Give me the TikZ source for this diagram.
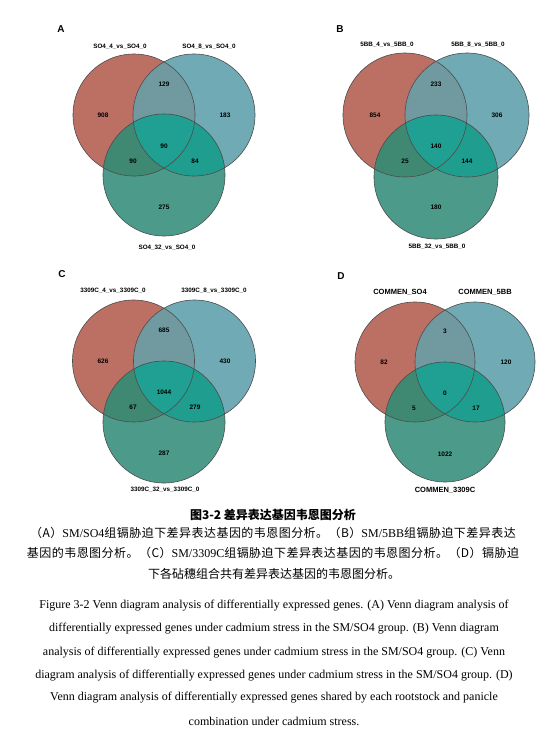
\documentclass[tikz,border=0pt]{standalone}
\usepackage{fontspec}
\setmainfont{Liberation Serif}
\setsansfont{Liberation Sans}
\newfontfamily\cjk{Noto Sans CJK SC}
\newfontfamily\cjkwide[LetterSpace=3.8]{Noto Sans CJK SC}
\usetikzlibrary{calc}
\pgfdeclarelayer{background}
\pgfdeclarelayer{foreground}
\pgfsetlayers{background,main,foreground}

\definecolor{vred}{RGB}{188,112,100}
\definecolor{vblue}{RGB}{112,170,181}
\definecolor{vgreen}{RGB}{76,155,138}
\definecolor{vredblue}{RGB}{112,153,160}
\definecolor{vredgreen}{RGB}{63,136,114}
\definecolor{vbluegreen}{RGB}{31,158,144}
\definecolor{vall}{RGB}{32,160,146}

\newcommand{\zh}[1]{{\cjkwide #1}}

\tikzset{
  setname/.style={font=\sffamily\bfseries\fontsize{6.3}{7}\selectfont},
  count/.style={font=\sffamily\bfseries\fontsize{6.5}{7}\selectfont},
  panel/.style={font=\sffamily\bfseries\fontsize{10}{12}\selectfont},
  rim/.style={draw=black!70, line width=0.6pt},
  zhline/.style={font=\cjk\fontsize{12}{14}\selectfont},
  enline/.style={font=\fontsize{12}{14}\selectfont},
}

\begin{document}
\begin{tikzpicture}[x=1pt,y=-1pt]
\useasboundingbox (0,0) rectangle (550,744);

% circles of the four panels
\foreach \p/\cx/\cy/\d/\r in {A/164/115/30/61, B/436/115/31/62, C/164/361/30.5/61, D/445/362/30/60}{
  \coordinate (\p-r) at (\cx-\d,\cy);
  \coordinate (\p-b) at (\cx+\d,\cy);
  \coordinate (\p-g) at (\cx,\cy+2*\d);
  \begin{pgfonlayer}{background}
  \fill[vred] (\p-r) circle (\r pt);
  \fill[vblue] (\p-b) circle (\r pt);
  \fill[vgreen] (\p-g) circle (\r pt);
  \begin{scope}
    \clip (\p-b) circle (\r pt);
    \fill[vbluegreen] (\p-g) circle (\r pt);
  \end{scope}
  \begin{scope}
    \clip (\p-r) circle (\r pt);
    \fill[vredblue] (\p-b) circle (\r pt);
    \fill[vredgreen] (\p-g) circle (\r pt);
    \clip (\p-b) circle (\r pt);
    \fill[vall] (\p-g) circle (\r pt);
  \end{scope}
  \end{pgfonlayer}
  \draw[rim] (\p-r) circle (\r pt);
  \draw[rim] (\p-b) circle (\r pt);
  \draw[rim] (\p-g) circle (\r pt);
}

% counts
\begin{pgfonlayer}{foreground}
\foreach \p/\cx/\cy/\ro/\bo/\rb/\all/\rg/\bg/\go in {
  A/164/115/908/183/129/90/90/84/275,
  B/436/115/854/306/233/140/25/144/180,
  C/164/361/626/430/685/1044/67/279/287,
  D/445/362/82/120/3/0/5/17/1022}{
  \node[count] (\p-ro) at (\cx-61,\cy) {\ro};
  \node[count] (\p-bo) at (\cx+61,\cy) {\bo};
  \node[count] (\p-rb) at (\cx,\cy-31) {\rb};
  \node[count] (\p-all) at (\cx,\cy+31) {\all};
  \node[count] (\p-rg) at (\cx-31,\cy+46) {\rg};
  \node[count] (\p-bg) at (\cx+31,\cy+46) {\bg};
  \node[count] (\p-go) at (\cx,\cy+92) {\go};
}
\end{pgfonlayer}

% panel letters and set names
\node[panel] (A) at (61,29) {A};
\node[setname] (A-rn) at (120,47) {SO4\_4\_vs\_SO4\_0};
\node[setname] (A-bn) at (209,47) {SO4\_8\_vs\_SO4\_0};
\node[setname] (A-gn) at (167,248) {SO4\_32\_vs\_SO4\_0};

\node[panel] (B) at (340,29) {B};
\node[setname] (B-rn) at (387,45) {5BB\_4\_vs\_5BB\_0};
\node[setname] (B-bn) at (478,45) {5BB\_8\_vs\_5BB\_0};
\node[setname] (B-gn) at (437,247) {5BB\_32\_vs\_5BB\_0};

\node[panel] (C) at (62,274) {C};
\node[setname] (C-rn) at (113,291) {3309C\_4\_vs\_3309C\_0};
\node[setname] (C-bn) at (214,291) {3309C\_8\_vs\_3309C\_0};
\node[setname] (C-gn) at (165,490) {3309C\_32\_vs\_3309C\_0};

\node[panel] (D) at (341,276) {D};
\node[setname,font=\sffamily\bfseries\fontsize{7.5}{8}\selectfont] (D-rn) at (400,292) {COMMEN\_SO4};
\node[setname,font=\sffamily\bfseries\fontsize{7.5}{8}\selectfont] (D-bn) at (485,292) {COMMEN\_5BB};
\node[setname,font=\sffamily\bfseries\fontsize{7.5}{8}\selectfont] (D-gn) at (445,490) {COMMEN\_3309C};

% caption
\node[zhline] (zh0) at (273,515) {\bfseries 图3-2\ 差异表达基因韦恩图分析};
\node[enline] (zh1) at (273,533) {\zh{（A）}SM/SO4\zh{组镉胁迫下差异表达基因的韦恩图分析。（B）}SM/5BB\zh{组镉胁迫下差异表达}};
\node[enline] (zh2) at (273,553) {\zh{基因的韦恩图分析。（C）}SM/3309C\zh{组镉胁迫下差异表达基因的韦恩图分析。（D）镉胁迫}};
\node[zhline] (zh3) at (274,574) {下各砧穗组合共有差异表达基因的韦恩图分析。};

\node[enline] (en1) at (274,606) {Figure 3-2 Venn diagram analysis of differentially expressed genes. (A) Venn diagram analysis of};
\node[enline] (en2) at (274,629) {differentially expressed genes under cadmium stress in the SM/SO4 group. (B) Venn diagram};
\node[enline] (en3) at (274,653) {analysis of differentially expressed genes under cadmium stress in the SM/SO4 group. (C) Venn};
\node[enline] (en4) at (274,676) {diagram analysis of differentially expressed genes under cadmium stress in the SM/SO4 group. (D)};
\node[enline] (en5) at (274,698) {Venn diagram analysis of differentially expressed genes shared by each rootstock and panicle};
\node[enline] (en6) at (274,721) {combination under cadmium stress.};
\end{tikzpicture}
\end{document}
